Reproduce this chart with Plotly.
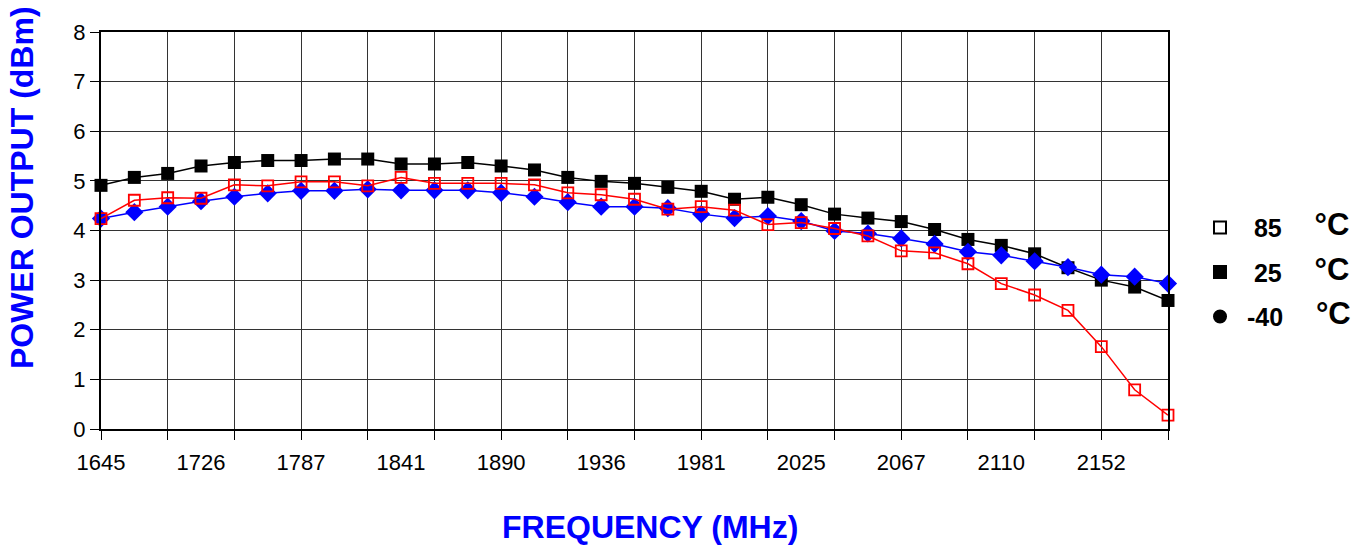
import plotly.graph_objects as go

# Category labels shown on the frequency axis (every third measurement point)
freq_labels = ["1645", "1726", "1787", "1841", "1890", "1936", "1981", "2025", "2067", "2110", "2152"]
label_step = 3
n_points = 33
point_index = list(range(n_points))

# Power output (dBm) per temperature
p_25 = [4.91, 5.07, 5.15, 5.30, 5.37, 5.41, 5.41, 5.44, 5.44, 5.34, 5.34, 5.37, 5.30, 5.22, 5.07,
        4.99, 4.95, 4.87, 4.79, 4.63, 4.67, 4.52, 4.33, 4.25, 4.18, 4.02, 3.82, 3.70, 3.53, 3.25,
        3.00, 2.86, 2.59]
p_m40 = [4.24, 4.37, 4.48, 4.59, 4.68, 4.75, 4.80, 4.80, 4.83, 4.81, 4.81, 4.81, 4.76, 4.68, 4.57,
         4.48, 4.48, 4.45, 4.33, 4.25, 4.29, 4.19, 3.99, 3.94, 3.84, 3.73, 3.57, 3.50, 3.38, 3.26,
         3.11, 3.07, 2.93]
p_85 = [4.24, 4.61, 4.66, 4.65, 4.92, 4.90, 4.98, 4.98, 4.90, 5.07, 4.95, 4.95, 4.95, 4.92, 4.76,
        4.72, 4.63, 4.43, 4.48, 4.41, 4.12, 4.16, 4.04, 3.89, 3.59, 3.55, 3.33, 2.93, 2.70, 2.39,
        1.66, 0.79, 0.28]

legend_names = ["85", "25", "-40"]
legend_lead = ["\u00a0\u00a0", "\u00a0\u00a0", "\u00a0"]

FONT = "Arial, Liberation Sans, sans-serif"

fig = go.Figure()

fig.add_trace(go.Scatter(x=point_index, y=p_25, mode="lines+markers",
                         line=dict(color="black", width=1.5),
                         marker=dict(symbol="square", size=13, color="black"),
                         cliponaxis=False, showlegend=False))
fig.add_trace(go.Scatter(x=point_index, y=p_m40, mode="lines+markers",
                         line=dict(color="#0000FF", width=1.5),
                         marker=dict(symbol="diamond", size=14, color="#0000FF"),
                         cliponaxis=False, showlegend=False))
fig.add_trace(go.Scatter(x=point_index, y=p_85, mode="lines+markers", xaxis="x2",
                         line=dict(color="#FF0000", width=1.5),
                         marker=dict(symbol="square-open", size=11, color="#FF0000",
                                     line=dict(width=1.8, color="#FF0000")),
                         cliponaxis=False, showlegend=False))

# Legend entries (black symbols as in the original)
leg_symbols = ["square-open", "square", "circle"]
for name, lead, sym in zip(legend_names, legend_lead, leg_symbols):
    fig.add_trace(go.Scatter(
        x=[None], y=[None], mode="markers", legendgroup=name,
        name=(f"{lead}<b>{name}</b>\u00a0\u00a0\u00a0\u00a0\u2009"
              "<span style='font-size:31px;baseline-shift:2px'><b>°C</b></span>"),
        marker=dict(symbol=sym, size=17, color="black", line=dict(width=2, color="black"))))

grid_col = "#333333"
fig.update_layout(
    width=1364, height=546,
    margin=dict(l=101, r=196, t=32, b=117, autoexpand=False),
    paper_bgcolor="white", plot_bgcolor="white",
    font=dict(family=FONT, size=22, color="black"),
    xaxis=dict(range=[0, n_points - 1], tickmode="linear", tick0=0, dtick=2,
               showticklabels=False, ticks="outside", ticklen=9, tickcolor="black",
               showgrid=True, gridcolor=grid_col, gridwidth=1,
               showline=True, linecolor="black", linewidth=2, mirror=True, zeroline=False),
    xaxis2=dict(overlaying="x", matches="x", side="bottom", anchor="y",
                range=[0, n_points - 1],
                tickmode="array", tickvals=[i * label_step for i in range(len(freq_labels))],
                ticktext=freq_labels, ticks="outside", ticklen=14,
                tickcolor="rgba(0,0,0,0)", showgrid=False, showline=False, zeroline=False,
                tickfont=dict(size=22, color="black")),
    yaxis=dict(range=[0, 8], tickmode="linear", tick0=0, dtick=1,
               ticks="outside", ticklen=9, tickcolor="black",
               showgrid=True, gridcolor=grid_col, gridwidth=1,
               showline=True, linecolor="black", linewidth=2, mirror=True, zeroline=False,
               tickfont=dict(size=22, color="black")),
    legend=dict(x=1.03, xanchor="left", y=0.565, yanchor="top",
                bgcolor="rgba(0,0,0,0)", borderwidth=0, tracegroupgap=9,
                itemsizing="constant", font=dict(size=25, color="black", family=FONT)),
    annotations=[
        dict(text="<b>POWER OUTPUT (dBm)</b>", xref="paper", yref="paper",
             x=-0.074, y=0.607, xanchor="center", yanchor="middle",
             textangle=-90, showarrow=False,
             font=dict(size=32, color="#0000FF", family=FONT)),
        dict(text="<b>FREQUENCY (MHz)</b>", xref="paper", yref="paper",
             x=0.5145, y=-0.247, xanchor="center", yanchor="middle", showarrow=False,
             font=dict(size=32, color="#0000FF", family=FONT)),
    ],
)

# Remove the browser's default page margin so the figure fills the window exactly.
fig.write_html("out.html", config={"displayModeBar": False},
               post_script="document.body.style.margin='0px';")
